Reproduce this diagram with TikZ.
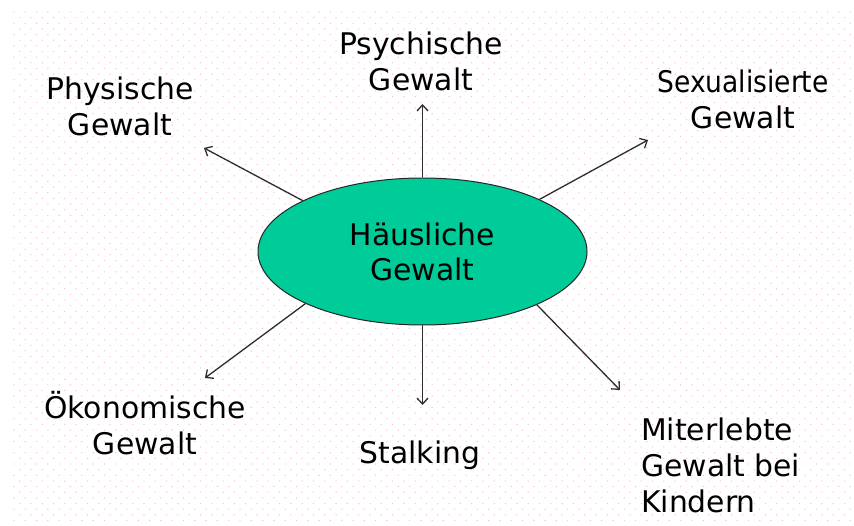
\documentclass[tikz,border=0pt]{standalone}
\usepackage{fontspec}
\setmainfont{DejaVu Sans}
\usetikzlibrary{arrows.meta,shapes.geometric}
\definecolor{dotpink}{RGB}{255,188,205}
\definecolor{ellfill}{RGB}{0,204,153}
\definecolor{arr}{RGB}{45,45,45}
\tikzset{
  lbl/.style={font=\fontsize{29.8}{36}\selectfont, inner sep=0pt, align=center, anchor=base},
  conn/.style={draw=arr, line width=1.3pt, -{Straight Barb[length=6pt,width=11pt]}},
  hub/.style={ellipse, draw=black!85, line width=1pt, fill=ellfill, minimum width=329pt, minimum height=147pt, inner sep=0pt, align=center, font=\fontsize{29.8}{36}\selectfont}
}
\begin{document}
\begin{tikzpicture}[x=1pt,y=-1pt]
\useasboundingbox (0,0) rectangle (854,526);
\fill[white] (0,0) rectangle (854,526);
\foreach \r in {0,...,90} {
  \pgfmathsetmacro\yy{12+\r*5.65}
  \pgfmathsetmacro\xo{14+mod(\r,2)*5.65}
  \foreach \c in {0,...,74} {
    \fill[dotpink] (\xo+\c*11.3,\yy) circle (0.7);
  }
}
\node[hub] (e) at (422.5,251.5) {Häusliche\\[-1pt]Gewalt};
\node[lbl] (psy) at (421,91) {Psychische\\Gewalt};
\node[lbl] (phy) at (120,136) {Physische\\Gewalt};
\node[lbl] (sex) at (743,129) {\scalebox{0.89}[1]{Sexualisierte}\\Gewalt};
\node[lbl] (oek) at (145,454) {Ökonomische\\Gewalt};
\node[lbl] (sta) at (420,463) {Stalking};
\node[lbl, align=left, anchor=base west] (mit) at (641,512) {Miterlebte\\Gewalt bei\\Kindern};
\coordinate (psyE) at (422.5,104);
\coordinate (phyE) at (204,148);
\coordinate (sexE) at (648,140);
\coordinate (oekE) at (205,378);
\coordinate (staE) at (422.5,405);
\coordinate (mitE) at (620,390);
\draw[conn] (e.north) -- (psyE);
\draw[conn] (e.157.5) -- (phyE);
\draw[conn] (e.24.9) -- (sexE);
\draw[conn] (e.204.5) -- (oekE);
\draw[conn] (e.south) -- (staE);
\draw[conn] (e.335.5) -- (mitE);
\end{tikzpicture}
\end{document}
